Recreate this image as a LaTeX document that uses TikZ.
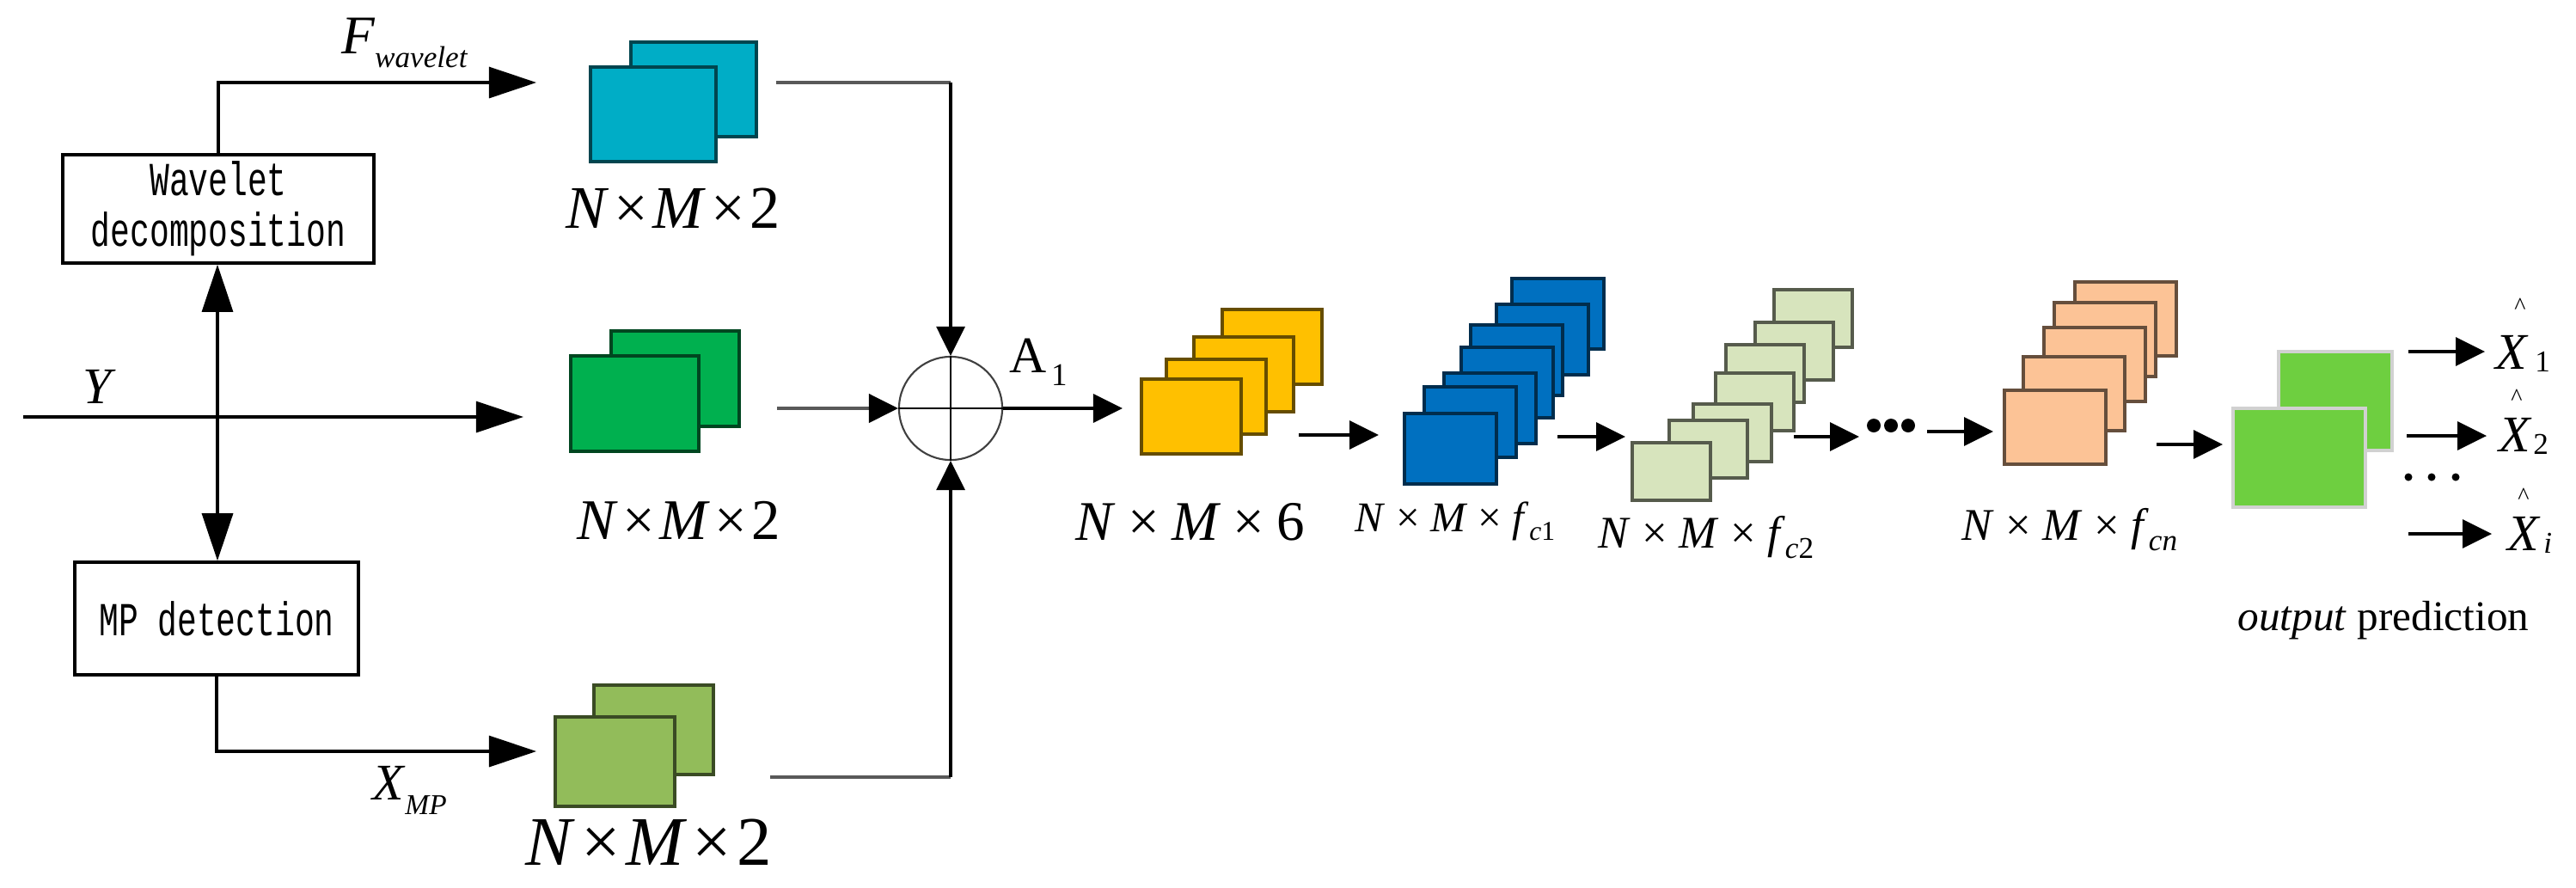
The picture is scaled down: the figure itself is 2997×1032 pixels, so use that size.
\documentclass[tikz,border=0pt]{standalone}
\usepackage{graphicx}
\usepackage{fontspec}
\setmainfont{Liberation Serif}
\newfontfamily\boxfont{Liberation Mono}
\usetikzlibrary{arrows.meta}
\definecolor{cteal}{HTML}{00ADC6}
\definecolor{cgreen}{HTML}{00B04F}
\definecolor{clgreen}{HTML}{92BC5A}
\definecolor{cyel}{HTML}{FFC000}
\definecolor{cblue}{HTML}{0070C0}
\definecolor{cpale}{HTML}{D7E4BD}
\definecolor{corange}{HTML}{FCC396}
\definecolor{cout}{HTML}{6ECF40}
\newcommand{\sz}[1]{\fontsize{#1}{#1}\selectfont}
\newcommand{\nmx}[2]{\textit{N}\hspace{#1}×\hspace{#1}\textit{M}\hspace{#1}×\hspace{#1}#2}
\newcommand{\mono}[1]{\scalebox{1}[1.45]{#1}}
\tikzset{
  conn/.style={line width=0.9pt, draw=black},
  grayconn/.style={line width=1.2pt, draw=black!65},
  bigarrow/.style={-{Triangle[length=0.55cm,width=0.36cm,color=black]}},
  smallarrow/.style={-{Triangle[length=0.34cm,width=0.33cm,color=black]}},
  procbox/.style={draw, line width=1pt, fill=white, inner sep=0pt, align=center,
     font=\boxfont\fontsize{10.8}{16.8}\selectfont},
  fmap/.style={draw=#1!40!black, fill=#1, line width=1pt, anchor=north west, inner sep=0pt},
  lbl/.style={inner sep=0pt, outer sep=0pt},
  sumc/.style={circle, draw=black!75, line width=0.6pt, minimum size=1.2cm, inner sep=0pt},
}
\begin{document}
\begin{tikzpicture}[x=0.01cm,y=-0.01cm]
\useasboundingbox[fill=white] (0,0) rectangle (2997,1032);

% processing boxes
\node[procbox, minimum width=3.62cm, minimum height=1.26cm] (wav) at (254,243)
  {\mono{Wavelet}\\\mono{decomposition}};
\node[procbox, minimum width=3.30cm, minimum height=1.31cm] (mpd) at (252,719.5)
  {\mono{MP detection}};

% input lines
\coordinate (yin) at (27,485);
\coordinate (yj) at (253,485);
\coordinate (ytip) at (609,485);
\coordinate (ftip) at (624,96);
\coordinate (mtip) at (624,874);
\draw[conn,bigarrow] (yin) -- (ytip);
\draw[conn,bigarrow] (yj) -- (yj |- wav.south);
\draw[conn,bigarrow] (yj) -- (yj |- mpd.north);
\draw[conn,bigarrow] (wav.north) |- (ftip);
\draw[conn,bigarrow] (mpd.south) |- (mtip);

% labels of inputs
\node[lbl, anchor=base west] (fwl) at (397,62) {\sz{18}\textit{F}\raisebox{-0.16cm}{\sz{10}\textit{wavelet}}};
\node[lbl, anchor=base west] (ylab) at (97,469) {\sz{17}\textit{Y}};
\node[lbl, anchor=base west] (xmpl) at (433,930) {\sz{17}\textit{X}\raisebox{-0.17cm}{\sz{9.5}\textit{MP}}};

% feature maps (input)
\foreach \x/\y [count=\i] in {732/47, 685/76}
  \node[fmap=cteal, minimum width=1.46cm, minimum height=1.10cm] (teal\i) at (\x,\y) {};
\foreach \x/\y [count=\i] in {709/383, 662/412}
  \node[fmap=cgreen, minimum width=1.49cm, minimum height=1.11cm] (grn\i) at (\x,\y) {};
\foreach \x/\y [count=\i] in {689/795, 644/832}
  \node[fmap=clgreen, minimum width=1.39cm, minimum height=1.04cm] (lgr\i) at (\x,\y) {};

\node[lbl, anchor=base] (lab1) at (783,265) {\sz{20}\nmx{0.08em}{2}};
\node[lbl, anchor=base] (lab2) at (790,627) {\sz{19}\nmx{0.08em}{2}};
\node[lbl, anchor=base] (lab3) at (755,1006) {\sz{23}\nmx{0.08em}{2}};

% summation
\node[sumc] (sum) at (1106,475) {};
\draw[line width=0.7pt] (sum.north) -- (sum.south);
\draw[line width=0.7pt] (sum.west) -- (sum.east);
\coordinate (tout) at (903,96);
\coordinate (gout) at (904,475);
\coordinate (lout) at (896,904);
\draw[grayconn] (tout) -- (tout -| sum);
\draw[conn,smallarrow] (tout -| sum) -- (sum.north);
\draw[grayconn,smallarrow] (gout) -- (sum.west);
\draw[grayconn] (lout) -- (lout -| sum);
\draw[conn,smallarrow] (lout -| sum) -- (sum.south);
\coordinate (atip) at (1306,475);
\draw[conn,smallarrow] (sum.east) -- (atip);
\node[lbl, anchor=base west] (alab) at (1174,433) {\sz{17}A\hspace{0.06cm}\raisebox{-0.15cm}{\sz{10.5}1}};

% yellow stack
\foreach \x/\y [count=\i] in {1420/358, 1387/390, 1355/416, 1326/439}
  \node[fmap=cyel, minimum width=1.16cm, minimum height=0.87cm] (yel\i) at (\x,\y) {};
\node[lbl, anchor=base] (lab6) at (1385,628) {\sz{18.5}\nmx{0.22em}{6}};

% blue stack
\foreach \x/\y [count=\i] in {1757/322, 1739/352, 1709/376, 1698/402, 1678/432, 1655/448, 1632/479}
  \node[fmap=cblue, minimum width=1.07cm, minimum height=0.82cm] (blu\i) at (\x,\y) {};
\node[lbl, anchor=base] (labc1) at (1693,618) {\sz{14}\nmx{0.25em}{\textit{f}\raisebox{-0.1cm}{\sz{9}\textit{c}1}}};

% pale green stack
\foreach \x/\y [count=\i] in {2062/335, 2040/373, 2006/399, 1994/432, 1968/468, 1940/487, 1897/513}
  \node[fmap=cpale, minimum width=0.91cm, minimum height=0.67cm] (pal\i) at (\x,\y) {};
\node[lbl, anchor=base] (labc2) at (1985,637) {\sz{15}\nmx{0.25em}{\textit{f}\raisebox{-0.12cm}{\sz{10}\textit{c}2}}};

% orange stack
\foreach \x/\y [count=\i] in {2412/326, 2388/350, 2376/379, 2352/413, 2330/452}
  \node[fmap=corange, minimum width=1.18cm, minimum height=0.86cm] (org\i) at (\x,\y) {};
\node[lbl, anchor=base] (labcn) at (2408,628) {\sz{15}\nmx{0.25em}{\textit{f}\raisebox{-0.12cm}{\sz{10}\textit{cn}}}};

% output maps
\node[fmap=cout, draw=black!18, minimum width=1.32cm, minimum height=1.15cm] (out2) at (2649,407) {};
\node[fmap=cout, draw=black!18, minimum width=1.54cm, minimum height=1.15cm] (out1) at (2596,473) {};

% chain arrows
\coordinate (c1s) at (1511,506); \coordinate (c1t) at (1604,506);
\coordinate (c2s) at (1812,508); \coordinate (c2t) at (1891,508);
\coordinate (c3s) at (2087,508); \coordinate (c3t) at (2163,508);
\coordinate (c4s) at (2242,502); \coordinate (c4t) at (2319,502);
\coordinate (c5s) at (2509,517); \coordinate (c5t) at (2586,517);
\draw[conn,smallarrow] (c1s) -- (c1t);
\draw[conn,smallarrow] (c2s) -- (c2t);
\draw[conn,smallarrow] (c3s) -- (c3t);
\draw[conn,smallarrow] (c4s) -- (c4t);
\draw[conn,smallarrow] (c5s) -- (c5t);
\foreach \x in {2180,2200,2220} \fill (\x,495) circle[radius=0.08cm];

% outputs
\coordinate (o1s) at (2802,409); \coordinate (o1t) at (2891,409);
\coordinate (o2s) at (2800,507); \coordinate (o2t) at (2893,507);
\coordinate (o3s) at (2802,621); \coordinate (o3t) at (2899,621);
\draw[conn,smallarrow] (o1s) -- (o1t);
\draw[conn,smallarrow] (o2s) -- (o2t);
\draw[conn,smallarrow] (o3s) -- (o3t);
\foreach \x in {2802,2829,2857} \fill (\x,555) circle[radius=0.045cm];

\node[lbl, anchor=base west] (x1) at (2903,429) {\sz{17}\textit{X}\hspace{0.08cm}\raisebox{-0.03cm}{\sz{10}1}};
\node[lbl, anchor=base west] (x2) at (2907,525) {\sz{17}\textit{X}\hspace{0.02cm}\raisebox{-0.03cm}{\sz{10}2}};
\node[lbl, anchor=base west] (xi) at (2917,640) {\sz{17}\textit{X}\hspace{0.04cm}\raisebox{-0.03cm}{\sz{10}\textit{i}}};
\node[lbl, anchor=north] (h1) at (2932,347) {\sz{8}\textasciicircum};
\node[lbl, anchor=north] (h2) at (2928,453) {\sz{8}\textasciicircum};
\node[lbl, anchor=north] (h3) at (2936,568) {\sz{8}\textasciicircum};

\node[lbl, anchor=base] (opl) at (2773,733) {\sz{14}\textit{output} prediction};
\end{tikzpicture}
\end{document}
